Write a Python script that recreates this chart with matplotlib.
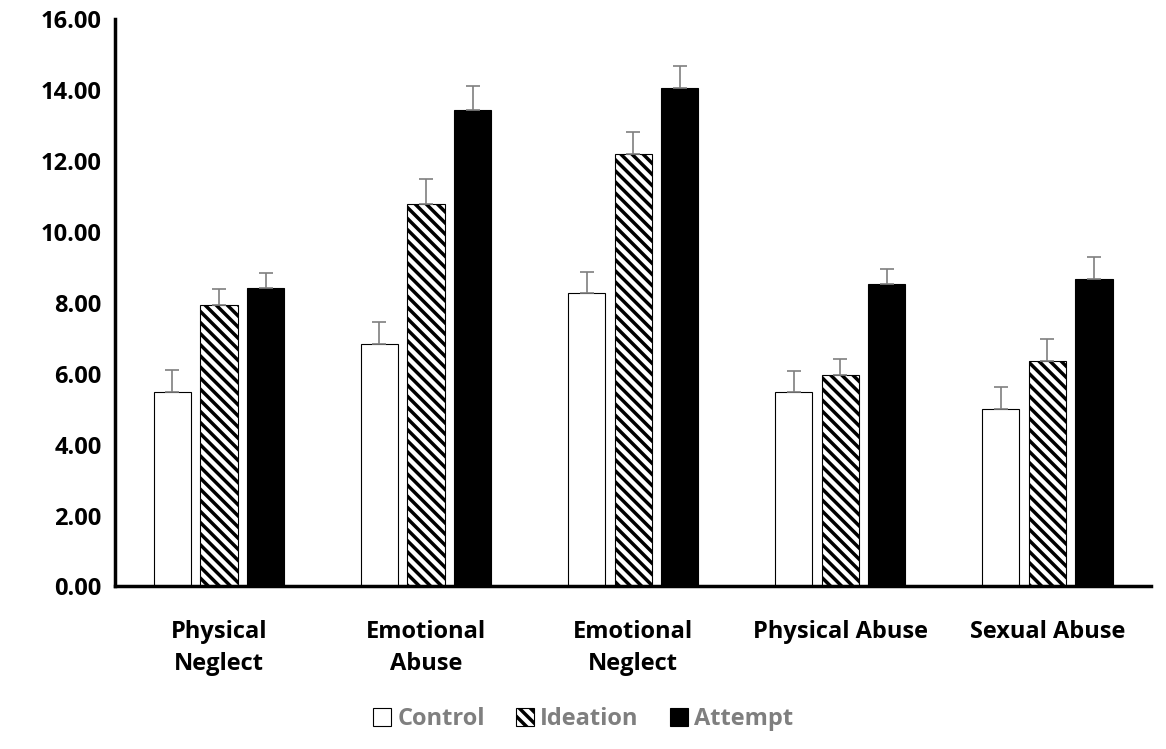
import matplotlib
matplotlib.use("Agg")
import matplotlib.pyplot as plt
import numpy as np
from matplotlib.patches import Patch

plt.rcParams['font.family'] = ['Open Sans', 'DejaVu Sans']
plt.rcParams['font.weight'] = 'bold'
plt.rcParams['hatch.linewidth'] = 2.5

categories = ["Physical\nNeglect", "Emotional\nAbuse", "Emotional\nNeglect", "Physical Abuse", "Sexual Abuse"]
series = ["Control", "Ideation", "Attempt"]
control = [5.50, 6.85, 8.28, 5.50, 5.02]
ideation = [7.95, 10.80, 12.20, 5.97, 6.35]
attempt = [8.42, 13.45, 14.08, 8.53, 8.68]
control_err = [0.62, 0.60, 0.60, 0.58, 0.60]
ideation_err = [0.44, 0.70, 0.62, 0.46, 0.62]
attempt_err = [0.43, 0.67, 0.62, 0.42, 0.62]

fig = plt.figure(figsize=(11.66, 7.49), dpi=100)
ax = fig.add_axes([0.099, 0.217, 0.888, 0.757])
x = np.arange(len(categories))
w = 0.18
gap = 0.225
styles = [dict(facecolor='white', edgecolor='black', hatch=None),
          dict(facecolor='white', edgecolor='black', hatch='\\\\\\'),
          dict(facecolor='black', edgecolor='black', hatch=None)]
for i, (vals, errs) in enumerate(zip([control, ideation, attempt], [control_err, ideation_err, attempt_err])):
    pos = x + (i - 1) * gap
    ax.bar(pos, vals, w, linewidth=0.8, **styles[i])
    ax.errorbar(pos, vals, yerr=[np.zeros(len(errs)), errs], fmt='none',
                ecolor='#7f7f7f', elinewidth=1.2, capsize=5, capthick=1.2)

ax.set_ylim(0, 16)
ax.set_xlim(-0.5, 4.5)
ax.set_yticks(np.arange(0, 16.01, 2))
ax.set_yticklabels([f"{v:.2f}" for v in np.arange(0, 16.01, 2)], fontsize=17, fontweight='bold')
ax.set_xticks(x)
ax.set_xticklabels(categories, fontsize=17, fontweight='bold', linespacing=1.45)
ax.tick_params(length=0, pad=10)
ax.tick_params(axis='x', pad=24)
for s in ['top', 'right']:
    ax.spines[s].set_visible(False)
ax.spines['left'].set_linewidth(2.5)
ax.spines['bottom'].set_linewidth(2.5)

handles = [Patch(**styles[i], linewidth=0.8) for i in range(3)]
leg = fig.legend(handles, series, loc='lower center', bbox_to_anchor=(0.5, -0.005), ncol=3,
                 frameon=False, fontsize=17, handlelength=0.8, handleheight=0.8,
                 columnspacing=1.3, handletextpad=0.25)
for t in leg.get_texts():
    t.set_color('#7f7f7f')
    t.set_fontweight('bold')
fig.savefig("out.png", dpi=100)
